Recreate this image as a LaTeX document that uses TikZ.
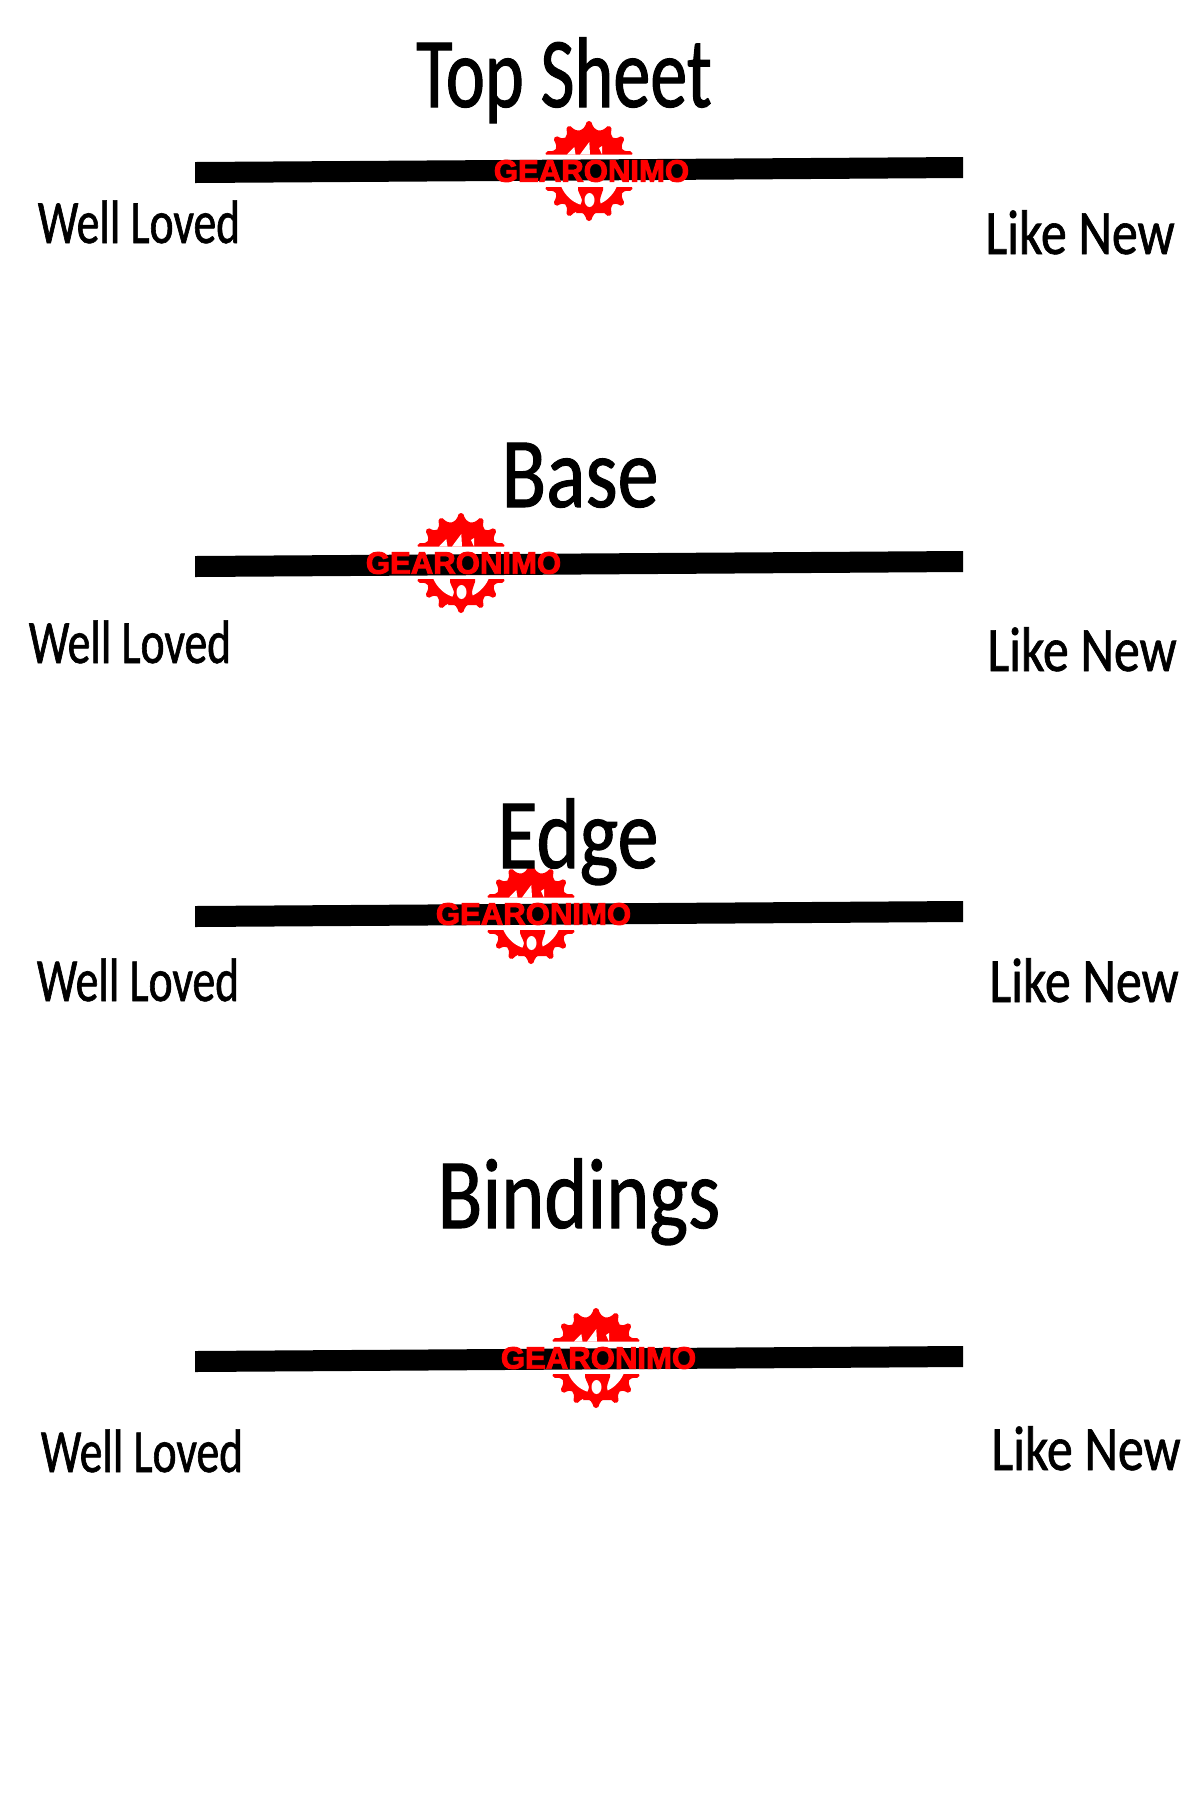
\documentclass[tikz,border=0pt]{standalone}
\usepackage{fontspec}
\newfontfamily\handfont[FakeStretch=0.74,FakeBold=1]{Carlito}
\newfontfamily\handwide[FakeStretch=0.82,FakeBold=1]{Carlito}
\newfontfamily\logofont[BoldFeatures={FakeBold=3}]{Liberation Sans}

\begin{document}
\begin{tikzpicture}[x=0.02cm,y=-0.02cm]
	\tikzset{heading/.style = {font=\handwide\fontsize{57}{57}\selectfont,inner sep=0pt,anchor=base}}
	\tikzset{wellend/.style = {font=\handfont\fontsize{35}{35}\selectfont,inner sep=0pt,anchor=base}}
	\tikzset{likeend/.style = {font=\handwide\fontsize{36}{36}\selectfont,inner sep=0pt,anchor=base}}
	\tikzset{logotext/.style = {font=\logofont\bfseries\fontsize{17.7}{17.7}\selectfont,text=red,inner sep=0pt}}
	\tikzset{slider/.style = {fill=black}}
	\tikzset{gearbadge/.pic = {
		\begin{scope}
			\clip (-60,-60) rectangle (60,-16.5) (-60,16) rectangle (60,60);
			\fill[red,line join=round] ({3}:45 and 49)
				\foreach \a/\b in {0/21,21/42,42/63,63/90,90/117,117/138,138/159,159/180,180/201,201/222,222/243,243/270,270/297,297/318,318/339,339/360} {
					.. controls ({\a+7.5}:37 and 40) and ({\b-7.5}:37 and 40) .. ({\b-3}:45 and 49)
					-- ({\b}:46.5 and 50) -- ({\b+3}:45 and 49)
				} -- cycle;
			% mountains
			\fill[white] (-22,-16.5) -- (-14.7,-24) -- (-13.5,-16.5) -- cycle;
			\fill[white] (-9,-16.5) -- (0.3,-29) -- (1,-16.5) -- cycle;
			\fill[white] (10,-23) -- (13,-25) -- (13,-16.5) -- cycle;
			% crank
			\begin{scope}
				\clip (-40,16) rectangle (40,60);
				\fill[white] (0,0) ellipse (31 and 35);
			\end{scope}
			\fill[red] (-11,14) -- (14,14) -- (14,19) .. controls (12,25) and (11,27) .. (11,29) .. controls (11,32) and (13,36) .. (15,42) -- (-13,42) .. controls (-10,36) and (-7,32) .. (-7,29) .. controls (-7,27) and (-9,25) .. (-11,19) -- cycle;
			\fill[white] (0.5,29) ellipse (5 and 7);
		\end{scope}
		\node[logotext] (-word) at (2.5,0) {GEARONIMO};
	}}
	\useasboundingbox (0,0) rectangle (1200,1800);
	% sliders
	\fill[slider] (195,162) -- (963,157) -- (963,178) -- (195,183) -- cycle;
	\fill[slider] (195,556) -- (963,551) -- (963,572) -- (195,577) -- cycle;
	\fill[slider] (195,906) -- (963,901) -- (963,922) -- (195,927) -- cycle;
	\fill[slider] (195,1351) -- (963,1346) -- (963,1367) -- (195,1372) -- cycle;
	% badges
	\pic (geartop) at (589,171) {gearbadge};
	\pic (gearbase) at (461,563) {gearbadge};
	\pic (gearedge) at (531,914) {gearbadge};
	\pic (gearbind) at (596,1358) {gearbadge};
	% titles
	\node[heading] (titletop) at (564,107) {\handfont Top Sheet};
	\node[heading] (titlebase) at (580,507) {Base};
	\node[heading] (titleedge) at (578,868) {Edge};
	\node[heading] (titlebind) at (579,1228) {Bindings};
	% ends
	\node[wellend] (welltop) at (139,243) {Well Loved};
	\node[likeend] (liketop) at (1080,254) {Like New};
	\node[wellend] (wellbase) at (130,663) {Well Loved};
	\node[likeend] (likebase) at (1082,671) {Like New};
	\node[wellend] (welledge) at (138,1001) {Well Loved};
	\node[likeend] (likeedge) at (1084,1002) {Like New};
	\node[wellend] (wellbind) at (142,1472) {Well Loved};
	\node[likeend] (likebind) at (1086,1470) {Like New};
\end{tikzpicture}
\end{document}
